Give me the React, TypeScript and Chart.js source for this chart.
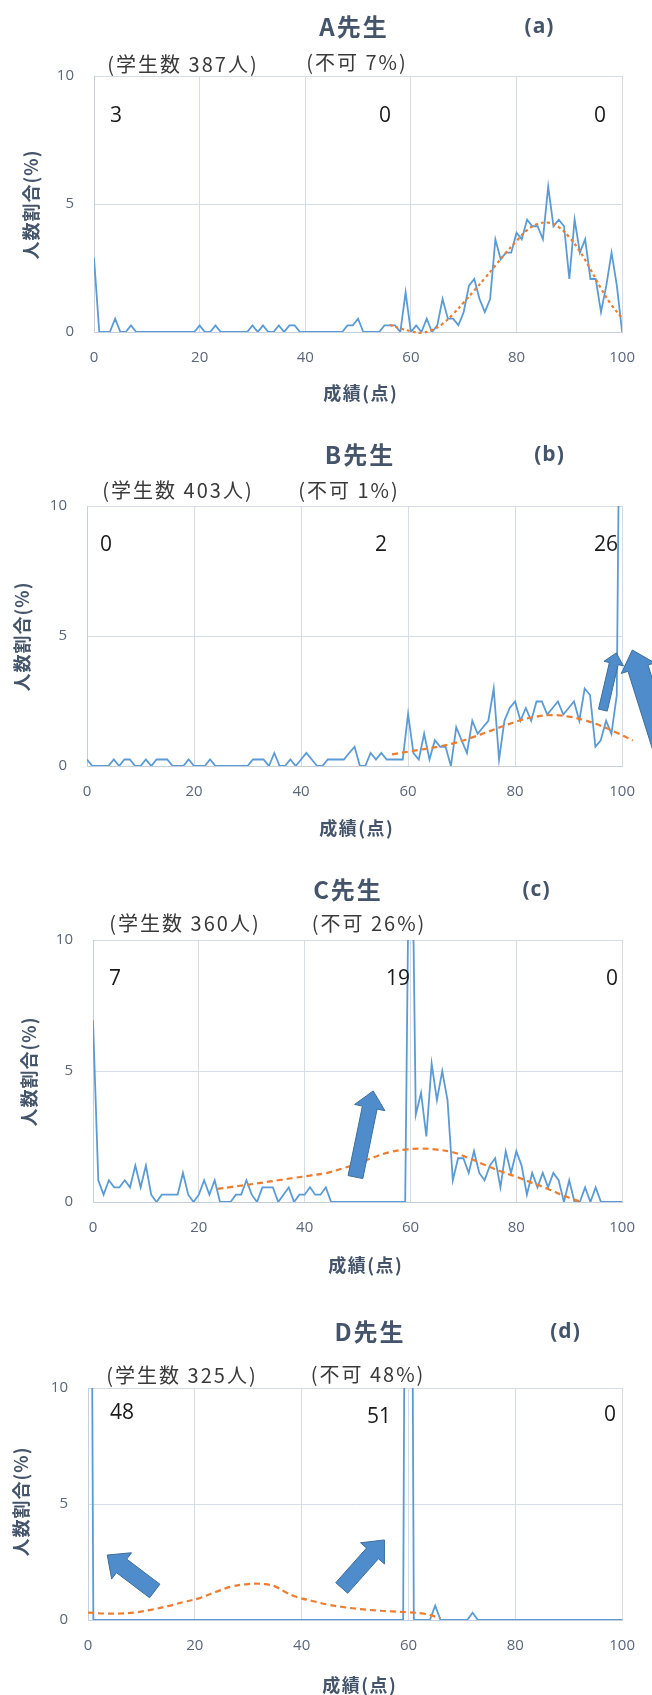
import { useEffect, useRef } from "react";
import { Chart, registerables } from "chart.js";

Chart.register(...registerables);

const LATIN = '"Open Sans", "Noto Sans CJK JP", sans-serif';
const JP = '"Noto Sans CJK JP", "Open Sans", sans-serif';

// ---- data -------------------------------------------------------------
const teacherNames = ["A先生", "B先生", "C先生", "D先生"];
const panelTags = ["(a)", "(b)", "(c)", "(d)"];
const studentCounts = [387, 403, 360, 325];
const failRates = [7, 1, 26, 48];
const labelScores = [0, 60, 100];
const xAxisTitle = "成績(点)";
const yAxisTitle = "人数割合(%)";

// share of students (%) for each score 0..100
const ratioA = [
  2.9, 0, 0, 0, 0.52, 0, 0, 0.26, 0, 0,
  0, 0, 0, 0, 0, 0, 0, 0, 0, 0,
  0.26, 0, 0, 0.26, 0, 0, 0, 0, 0, 0,
  0.26, 0, 0.26, 0, 0, 0.26, 0, 0.26, 0.26, 0,
  0, 0, 0, 0, 0, 0, 0, 0, 0.26, 0.26,
  0.52, 0, 0, 0, 0, 0.26, 0.26, 0.26, 0, 1.55,
  0, 0.26, 0, 0.52, 0, 0.26, 1.29, 0.52, 0.52, 0.26,
  0.78, 1.81, 2.07, 1.29, 0.78, 1.29, 3.62, 2.84, 3.1, 3.1,
  3.88, 3.62, 4.39, 4.13, 4.13, 3.62, 5.68, 4.13, 4.39, 4.13,
  2.07, 4.39, 3.1, 3.62, 2.07, 2.07, 0.78, 1.81, 3.1, 1.81,
  0,
];
const ratioB = [
  0.25, 0, 0, 0, 0, 0.25, 0, 0.25, 0.25, 0,
  0, 0.25, 0, 0.25, 0.25, 0.25, 0, 0, 0, 0.25,
  0, 0, 0, 0.25, 0, 0, 0, 0, 0, 0,
  0, 0.25, 0.25, 0.25, 0, 0.5, 0, 0, 0.25, 0,
  0.25, 0.5, 0.25, 0, 0, 0.25, 0.25, 0.25, 0.25, 0.5,
  0.74, 0, 0, 0.5, 0.25, 0.5, 0.25, 0.25, 0.25, 0.25,
  2.0, 0.5, 0.25, 1.24, 0.25, 0.99, 0.74, 0.74, 0, 1.49,
  0.99, 0.5, 1.74, 1.24, 1.49, 1.74, 2.98, 0.25, 1.74, 2.23,
  2.48, 1.74, 2.23, 1.74, 2.48, 2.48, 1.98, 2.23, 2.48, 1.98,
  2.23, 2.48, 1.74, 2.98, 2.73, 0.74, 0.99, 1.74, 1.24, 2.73,
  26,
];
const ratioC = [
  6.94, 0.83, 0.28, 0.83, 0.56, 0.56, 0.83, 0.56, 1.39, 0.56,
  1.39, 0.28, 0, 0.28, 0.28, 0.28, 0.28, 1.11, 0.28, 0,
  0.28, 0.83, 0.28, 0.83, 0, 0, 0, 0.28, 0.28, 0.83,
  0.28, 0, 0.56, 0.56, 0.56, 0, 0.28, 0.56, 0, 0.28,
  0.28, 0.56, 0.28, 0.28, 0.56, 0, 0, 0, 0, 0,
  0, 0, 0, 0, 0, 0, 0, 0, 0, 0,
  19.17, 3.33, 4.17, 2.5, 5.28, 3.89, 5.0, 3.89, 0.83, 1.67,
  1.67, 1.11, 1.94, 1.11, 0.83, 1.39, 1.67, 0.56, 1.94, 1.11,
  1.94, 1.39, 0.28, 1.11, 0.56, 1.11, 0.56, 1.11, 0.83, 0,
  0.83, 0, 0, 0.56, 0, 0.56, 0, 0, 0, 0,
  0,
];
const ratioD = [
  48, 0, 0, 0, 0, 0, 0, 0, 0, 0,
  0, 0, 0, 0, 0, 0, 0, 0, 0, 0,
  0, 0, 0, 0, 0, 0, 0, 0, 0, 0,
  0, 0, 0, 0, 0, 0, 0, 0, 0, 0,
  0, 0, 0, 0, 0, 0, 0, 0, 0, 0,
  0, 0, 0, 0, 0, 0, 0, 0, 0, 0,
  51, 0, 0, 0, 0, 0.62, 0, 0, 0, 0,
  0, 0, 0.31, 0, 0, 0, 0, 0, 0, 0,
  0, 0, 0, 0, 0, 0, 0, 0, 0, 0,
  0, 0, 0, 0, 0, 0, 0, 0, 0, 0,
  0,
];

// fitted distribution curves (score, %)
const fitAX = [56, 58, 60, 62, 64, 66, 68, 70, 72, 74, 76, 78, 80, 82, 84, 86, 88, 90, 92, 94, 96, 98, 100, 101.5];
const fitAY = [0.28, 0.14, 0.03, -0.03, 0.08, 0.32, 0.7, 1.15, 1.62, 2.1, 2.6, 3.1, 3.55, 3.98, 4.22, 4.27, 4.1, 3.7, 3.15, 2.45, 1.7, 1.05, 0.55, 0.2];
const fitBX = [57, 60, 63, 66, 69, 72, 75, 78, 81, 84, 87, 90, 93, 96, 99, 102, 105, 108];
const fitBY = [0.45, 0.55, 0.65, 0.76, 0.9, 1.1, 1.32, 1.55, 1.76, 1.9, 1.96, 1.9, 1.76, 1.55, 1.28, 0.98, 0.66, 0.4];
const fitCX = [23.5, 26, 29, 32, 35, 38, 41, 44, 47, 50, 53, 56, 59, 62, 65, 68, 71, 74, 77, 80, 83, 86, 89, 92];
const fitCY = [0.5, 0.57, 0.65, 0.74, 0.83, 0.92, 1.01, 1.1, 1.27, 1.47, 1.7, 1.9, 2.0, 2.04, 2.0, 1.9, 1.68, 1.42, 1.17, 0.96, 0.73, 0.5, 0.24, 0.02];
const fitDX = [0, 3, 6, 9, 12, 15, 18, 21, 24, 27, 30, 33, 35, 37, 39, 42, 45, 48, 51, 54, 57, 60, 63, 66];
const fitDY = [0.32, 0.28, 0.28, 0.33, 0.45, 0.6, 0.78, 0.95, 1.22, 1.45, 1.55, 1.55, 1.45, 1.2, 1.0, 0.82, 0.66, 0.55, 0.47, 0.41, 0.37, 0.33, 0.27, 0.08];

// callout arrows: [tailScore, tailPct, tipScore, tipPct, shaftW, headW, headL]
const arrowsA: number[][] = [];
const arrowsB = [
  [96.4, 2.15, 98.9, 4.35, 9, 20, 11],
  [107.8, 0.6, 101.9, 4.46, 21, 35, 19],
];
const arrowsC = [[49.6, 0.95, 52.95, 4.24, 15, 31, 17]];
const arrowsD = [
  [12.5, 1.25, 3.6, 2.8, 17, 33, 18],
  [47.5, 1.38, 55.5, 3.45, 16, 32, 18],
];

const ratios = [ratioA, ratioB, ratioC, ratioD];
const fitX = [fitAX, fitBX, fitCX, fitDX];
const fitY = [fitAY, fitBY, fitCY, fitDY];
const arrows = [arrowsA, arrowsB, arrowsC, arrowsD];

// ---- layout (page pixels) ----------------------------------------------
type Layout = {
  top: number;
  h: number;
  plot: { l: number; r: number; t: number; b: number };
  title: number[];
  tag: number[];
  sub1: number[];
  sub2: number[];
  labels: number[][];
  xTitle: number[];
  yTitle: number[];
  dash: number[];
};

const layouts: Layout[] = [
  {
    top: 0, h: 425, plot: { l: 94, r: 624, t: 76, b: 332 },
    title: [353, 27], tag: [539, 27], sub1: [182, 64], sub2: [356, 62],
    labels: [[116, 116], [385, 116], [600, 116]],
    xTitle: [360, 393], yTitle: [31, 205], dash: [3, 3],
  },
  {
    top: 425, h: 435, plot: { l: 87, r: 623, t: 506, b: 766 },
    title: [359, 455], tag: [549, 455], sub1: [177, 490], sub2: [348, 490],
    labels: [[106, 545], [381, 545], [606, 545]],
    xTitle: [356, 828], yTitle: [22, 637], dash: [6, 4],
  },
  {
    top: 860, h: 420, plot: { l: 93, r: 635, t: 940, b: 1202 },
    title: [347, 890], tag: [536, 890], sub1: [184, 923], sub2: [368, 923],
    labels: [[115, 979], [398, 979], [612, 979]],
    xTitle: [365, 1265], yTitle: [29, 1072], dash: [6, 4],
  },
  {
    top: 1280, h: 415, plot: { l: 88, r: 631, t: 1388, b: 1620 },
    title: [369, 1332], tag: [565, 1332], sub1: [181, 1375], sub2: [367, 1374],
    labels: [[122, 1413], [379, 1417], [610, 1415]],
    xTitle: [359, 1685], yTitle: [21, 1502], dash: [6, 4],
  },
];

const X_AXIS_H = 40;
const W = 652;
const TITLE_COLOR = "#44546a";
const TICK_COLOR = "#5a6679";
const GRID_COLOR = "#d6dce6";
const LINE_BLUE = "#5b9bd5";
const FIT_ORANGE = "#ed7d31";

function drawText(
  ctx: CanvasRenderingContext2D,
  text: string,
  x: number,
  y: number,
  font: string,
  color: string,
  spacing = 0,
  rotate = false
) {
  ctx.save();
  ctx.font = font;
  ctx.fillStyle = color;
  ctx.textAlign = "center";
  ctx.textBaseline = "middle";
  (ctx as any).letterSpacing = spacing + "px";
  ctx.translate(x, y);
  if (rotate) ctx.rotate(-Math.PI / 2);
  ctx.fillText(text, spacing / 2, 0);
  ctx.restore();
}

function drawBlockArrow(
  ctx: CanvasRenderingContext2D,
  x1: number, y1: number, x2: number, y2: number,
  shaftW: number, headW: number, headL: number
) {
  const dx = x2 - x1;
  const dy = y2 - y1;
  const len = Math.hypot(dx, dy);
  const ux = dx / len;
  const uy = dy / len;
  const nx = -uy;
  const ny = ux;
  const bx = x2 - ux * headL;
  const by = y2 - uy * headL;
  const s = shaftW / 2;
  const h = headW / 2;
  ctx.save();
  ctx.beginPath();
  ctx.moveTo(x1 + nx * s, y1 + ny * s);
  ctx.lineTo(bx + nx * s, by + ny * s);
  ctx.lineTo(bx + nx * h, by + ny * h);
  ctx.lineTo(x2, y2);
  ctx.lineTo(bx - nx * h, by - ny * h);
  ctx.lineTo(bx - nx * s, by - ny * s);
  ctx.lineTo(x1 - nx * s, y1 - ny * s);
  ctx.closePath();
  ctx.fillStyle = "#4f8ccc";
  ctx.fill();
  ctx.lineWidth = 1;
  ctx.strokeStyle = "#3d6e9c";
  ctx.stroke();
  ctx.restore();
}

function makeDecor(i: number) {
  const L = layouts[i];
  return {
    id: "panelDecor" + i,
    afterDraw(chart: any) {
      const ctx: CanvasRenderingContext2D = chart.ctx;
      const o = L.top;
      drawText(ctx, teacherNames[i], L.title[0], L.title[1] - o, `bold 24px ${JP}`, TITLE_COLOR, 2);
      drawText(ctx, panelTags[i], L.tag[0], L.tag[1] - o, `bold 21px ${LATIN}`, TITLE_COLOR, 1);
      drawText(ctx, `(学生数 ${studentCounts[i]}人)`, L.sub1[0], L.sub1[1] - o, `20px ${JP}`, "#3a3a3a", 2);
      drawText(ctx, `(不可 ${failRates[i]}%)`, L.sub2[0], L.sub2[1] - o, `20px ${JP}`, "#3a3a3a", 2);
      labelScores.forEach((s, k) => {
        const v = Math.round(ratios[i][s]);
        drawText(ctx, String(v), L.labels[k][0], L.labels[k][1] - o, `21px ${LATIN}`, "#1a1a1a");
      });
      drawText(ctx, xAxisTitle, L.xTitle[0], L.xTitle[1] - o, `bold 18px ${JP}`, TITLE_COLOR, 1.5);
      drawText(ctx, yAxisTitle, L.yTitle[0], L.yTitle[1] - o, `bold 18px ${JP}`, TITLE_COLOR, 1, true);
      const xs = chart.scales.x;
      const ys = chart.scales.y;
      for (const a of arrows[i]) {
        drawBlockArrow(
          ctx,
          xs.getPixelForValue(a[0]), ys.getPixelForValue(a[1]),
          xs.getPixelForValue(a[2]), ys.getPixelForValue(a[3]),
          a[4], a[5], a[6]
        );
      }
    },
  };
}

function Panel({ i }: { i: number }) {
  const ref = useRef<HTMLCanvasElement>(null);
  const L = layouts[i];
  useEffect(() => {
    const canvas = ref.current!;
    const points = ratios[i].map((v, s) => ({ x: s, y: v }));
    const fit = fitX[i].map((x, k) => ({ x, y: fitY[i][k] }));
    const chart = new Chart(canvas, {
      type: "line",
      data: {
        datasets: [
          {
            data: fit,
            borderColor: FIT_ORANGE,
            borderWidth: 2.2,
            borderDash: L.dash,
            pointRadius: 0,
            tension: 0.4,
            fill: false,
            clip: { left: 0, top: 0, right: 40, bottom: 4 } as any,
          },
          {
            data: points,
            borderColor: LINE_BLUE,
            borderWidth: 1.8,
            pointRadius: 0,
            tension: 0,
            fill: false,
          },
        ],
      },
      options: {
        animation: false,
        responsive: false,
        devicePixelRatio: 1,
        parsing: false as any,
        layout: {
          padding: {
            left: 0,
            right: W - L.plot.r,
            top: L.plot.t - L.top,
            bottom: L.top + L.h - L.plot.b - X_AXIS_H,
          },
        },
        plugins: { legend: { display: false }, tooltip: { enabled: false } },
        scales: {
          x: {
            type: "linear",
            min: 0,
            max: 100,
            afterFit: (s: any) => { s.height = X_AXIS_H; },
            ticks: {
              stepSize: 20,
              maxRotation: 0,
              padding: 17,
              color: TICK_COLOR,
              font: { family: LATIN, size: 15 },
            },
            grid: { color: GRID_COLOR, lineWidth: 1, drawTicks: false },
            border: { color: "#c6cfdc", width: 1 },
          },
          y: {
            type: "linear",
            min: 0,
            max: 10,
            afterFit: (s: any) => { s.width = L.plot.l; },
            ticks: {
              stepSize: 5,
              padding: 20,
              color: TICK_COLOR,
              font: { family: LATIN, size: 15 },
            },
            grid: { color: GRID_COLOR, lineWidth: 1, drawTicks: false },
            border: { color: "#c6cfdc", width: 1 },
          },
        },
      },
      plugins: [makeDecor(i)],
    });
    return () => chart.destroy();
  }, []);
  return (
    <canvas
      ref={ref}
      width={W}
      height={L.h}
      style={{ position: "absolute", left: 0, top: L.top, width: W, height: L.h }}
    />
  );
}

export default function App() {
  return (
    <div style={{ position: "absolute", left: 0, top: 0, width: W, height: 1695, background: "#fff", overflow: "hidden" }}>
      {layouts.map((_, i) => (
        <Panel key={i} i={i} />
      ))}
    </div>
  );
}
